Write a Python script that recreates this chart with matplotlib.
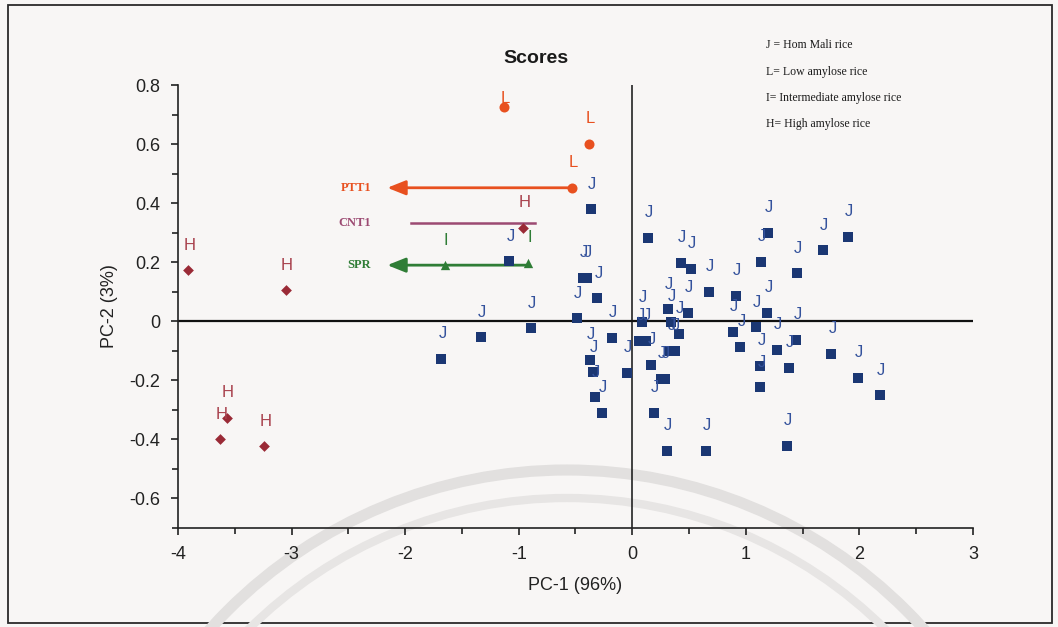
import matplotlib
matplotlib.use("Agg")
import matplotlib.pyplot as plt
from matplotlib.patches import Circle, Rectangle

# ---- PCA scores ----
# J: Hom Mali rice
j_pc1 = [-1.68, -1.33, -0.89, -1.083, -0.364, -0.434, -0.40, -0.308, -0.487,
         -0.179, -0.37, -0.35, -0.332, -0.27, -0.047, 0.085, 0.062, 0.123,
         0.135, 0.167, 0.19, 0.25, 0.29, 0.311, 0.343, 0.487, 0.408, 0.335,
         0.372, 0.305, 0.645, 0.431, 0.513, 0.675, 0.913, 0.886, 0.951,
         1.089, 1.19, 1.13, 1.197, 1.127, 1.127, 1.273, 1.376, 1.444, 1.45,
         1.675, 1.895, 1.754, 1.364, 1.987, 2.177]
j_pc2 = [-0.128, -0.054, -0.024, 0.203, 0.379, 0.147, 0.147, 0.078, 0.01,
         -0.057, -0.13, -0.173, -0.258, -0.31, -0.174, -0.003, -0.066, -0.066,
         0.283, -0.147, -0.31, -0.195, -0.195, 0.04, -0.001, 0.028, -0.042, -0.1,
         -0.1, -0.439, -0.439, 0.198, 0.178, 0.1, 0.087, -0.035, -0.087,
         -0.02, 0.029, 0.201, 0.299, -0.15, -0.224, -0.096, -0.158, -0.063, 0.163,
         0.24, 0.285, -0.11, -0.422, -0.192, -0.251]

# L: low amylose rice
l_pc1 = [-1.127, -0.379, -0.528]
l_pc2 = [0.727, 0.601, 0.452]

# I: intermediate amylose rice
i_pc1 = [-1.65, -0.915]
i_pc2 = [0.19, 0.197]

# H: high amylose rice
h_pc1 = [-3.91, -3.05, -3.57, -3.63, -3.24, -0.96]
h_pc2 = [0.173, 0.105, -0.326, -0.40, -0.424, 0.316]

# Property directions drawn as horizontal guides
prop_names = ["PTT1", "CNT1", "SPR"]
prop_start = [-0.528, -0.86, -0.915]
prop_end = [-2.157, -1.95, -2.157]
prop_pc2 = [0.452, 0.333, 0.19]
prop_arrow = [True, False, True]

x_ticks = [-4, -3, -2, -1, 0, 1, 2, 3]
x_tick_labels = ["-4", "-3", "-2", "-1", "0", "1", "2", "3"]
y_ticks = [-0.6, -0.4, -0.2, 0.0, 0.2, 0.4, 0.6, 0.8]
y_tick_labels = ["-0.6", "-0.4", "-0.2", "0", "0.2", "0.4", "0.6", "0.8"]

key_lines = ["J = Hom Mali rice", "L= Low amylose rice",
             "I= Intermediate amylose rice", "H= High amylose rice"]

# ---- styling ----
SANS = ["Liberation Sans", "DejaVu Sans"]
SERIF = ["Liberation Serif", "DejaVu Serif"]
plt.rcParams["font.family"] = SANS

c_j, c_jt = "#1b3773", "#34529c"
c_l = "#e8501f"
c_i = "#2f7d36"
c_h, c_ht = "#9a2a36", "#a8404c"
c_prop = ["#e8501f", "#9c4a72", "#2f7d36"]

W, H = 1058, 627
fig = plt.figure(figsize=(W / 100, H / 100), dpi=100, facecolor="#f8f6f5")

# background layer in pixel units: page frame and faint seal
bg = fig.add_axes([0, 0, 1, 1], zorder=-1)
bg.set_xlim(0, W)
bg.set_ylim(H, 0)
bg.axis("off")
bg.add_patch(Rectangle((8, 5), 1044, 618, fill=False, ec="#2a2a2a", lw=1.3))
bg.add_patch(Circle((567, 950), 480, fill=False, ec="#e2e0df", lw=8))
bg.add_patch(Circle((567, 950), 452, fill=False, ec="#e7e5e4", lw=6))

ax = fig.add_axes([178 / W, 1 - 528 / H, (973 - 178) / W, (528 - 85) / H])
ax.set_facecolor("none")
ax.set_xlim(-4, 3)
ax.set_ylim(-0.7, 0.8)

for s in ("top", "right"):
    ax.spines[s].set_visible(False)
for s in ("left", "bottom"):
    ax.spines[s].set_color("#222222")
    ax.spines[s].set_linewidth(1.2)

ax.set_xticks(x_ticks)
ax.set_xticklabels(x_tick_labels)
ax.set_yticks(y_ticks)
ax.set_yticklabels(y_tick_labels)
ax.set_xticks([v + 0.5 for v in x_ticks[:-1]], minor=True)
ax.set_yticks([v / 10 for v in range(-7, 8) if v % 2 != 0], minor=True)
ax.tick_params(which="both", direction="out", color="#222222", width=1.2)
ax.tick_params(which="major", length=5, labelsize=13, pad=8, labelcolor="#222222")
ax.tick_params(which="minor", length=4)

ax.axhline(0, color="#111111", lw=1.6, zorder=1)
ax.axvline(0, color="#111111", lw=1.1, zorder=1)

ax.set_xlabel("PC-1 (96%)", fontsize=13, color="#222222", labelpad=10)
ax.set_ylabel("PC-2 (3%)", fontsize=13, color="#222222", labelpad=8)
ax.text(0.45, 1.06, "Scores", transform=ax.transAxes, ha="center", va="center",
        fontsize=14, fontweight="bold", color="#1a1a1a")

# property guides
for name, x0, x1, y, arrow, c in zip(prop_names, prop_start, prop_end,
                                     prop_pc2, prop_arrow, c_prop):
    if arrow:
        ax.annotate("", xy=(x1, y), xytext=(x0, y),
                    arrowprops=dict(arrowstyle="-|>,head_length=0.55,head_width=0.22",
                                    color=c, lw=2.0, mutation_scale=20,
                                    shrinkA=0, shrinkB=0), zorder=2)
    else:
        ax.plot([x0, x1], [y, y], color=c, lw=1.8, zorder=2)
    ax.text(-2.30, y, name, ha="right", va="center", family=SERIF,
            fontweight="bold", fontsize=9, color=c)

# score markers
ax.scatter(j_pc1, j_pc2, marker="s", s=52, color=c_j, lw=0, zorder=3)
ax.scatter(l_pc1, l_pc2, marker="o", s=52, color=c_l, lw=0, zorder=3)
ax.scatter(i_pc1, i_pc2, marker="^", s=45, color=c_i, lw=0, zorder=3)
ax.scatter(h_pc1, h_pc2, marker="D", s=30, color=c_h, lw=0, zorder=3)


def tag(xs, ys, letter, color):
    for x, y in zip(xs, ys):
        ty = min(y + 0.085, 0.755)
        ax.text(x + 0.01, ty, letter, ha="center", va="center",
                fontsize=12, color=color, zorder=4)


tag(j_pc1, j_pc2, "J", c_jt)
tag(l_pc1, l_pc2, "L", c_l)
tag(i_pc1, i_pc2, "I", c_i)
tag(h_pc1, h_pc2, "H", c_ht)

# key in the top-right corner
for k, line in enumerate(key_lines):
    fig.text(766 / W, 1 - (45 + 26.5 * k) / H, line, ha="left", va="center",
             family=SERIF, fontsize=8.5, color="#1a1a1a")

fig.savefig("out.png", dpi=100, facecolor=fig.get_facecolor())
